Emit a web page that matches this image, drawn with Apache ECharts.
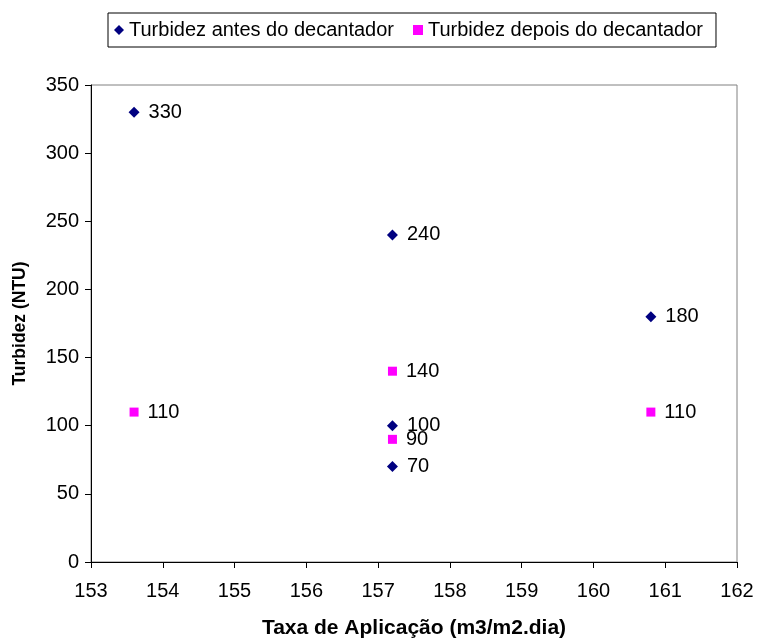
<!DOCTYPE html>
<html>
<head>
<meta charset="utf-8">
<script src="https://cdn.jsdelivr.net/npm/echarts@6/dist/echarts.min.js"></script>
<style>
  html, body { margin: 0; padding: 0; background: #fff; }
  #chart { width: 758px; height: 641px; }
</style>
</head>
<body>
<div id="chart"></div>
<script>
// Application rate (m3/m2.dia) and turbidity (NTU) readings
const antesX = [153.6, 157.2, 157.2, 157.2, 160.8];
const antesY = [330, 240, 100, 70, 180];
const depoisX = [153.6, 157.2, 157.2, 160.8];
const depoisY = [110, 140, 90, 110];

const seriesNames = ['Turbidez antes do decantador', 'Turbidez depois do decantador'];
const xTitle = 'Taxa de Aplicação (m3/m2.dia)';
const yTitle = 'Turbidez (NTU)';

const pairs = (xs, ys) => xs.map((x, i) => [x, ys[i]]);
const font = 'Arial, "Liberation Sans", sans-serif';

const chart = echarts.init(document.getElementById('chart'), null, { renderer: 'canvas' });

const labelStyle = {
  show: true,
  position: 'right',
  distance: 9,
  color: '#000',
  fontFamily: font,
  fontSize: 20,
  formatter: p => p.value[1]
};

chart.setOption({
  animation: false,
  backgroundColor: '#fff',
  legend: {
    top: 13,
    left: 108,
    itemGap: 19,
    itemWidth: 10,
    itemHeight: 10,
    borderColor: '#000',
    borderWidth: 1,
    borderRadius: 0,
    padding: [7, 13, 7, 6],
    textStyle: { fontFamily: font, fontSize: 20, color: '#000' },
    data: [
      { name: seriesNames[0], icon: 'diamond' },
      { name: seriesNames[1], icon: 'rect' }
    ]
  },
  grid: {
    left: 91,
    right: 21,
    top: 85,
    bottom: 79,
    outerBoundsMode: 'none',
    containLabel: false,
    show: true,
    borderColor: '#808080',
    borderWidth: 1
  },
  xAxis: {
    type: 'value',
    min: 153,
    max: 162,
    interval: 1,
    name: xTitle,
    nameLocation: 'middle',
    nameGap: 56,
    nameTextStyle: { fontFamily: font, fontSize: 21, fontWeight: 'bold', color: '#000' },
    axisLine: { show: true, onZero: false, lineStyle: { color: '#000', width: 1 } },
    axisTick: { show: true, length: 6, lineStyle: { color: '#000' } },
    axisLabel: { fontFamily: font, fontSize: 20, color: '#000', margin: 19 },
    splitLine: { show: false }
  },
  yAxis: {
    type: 'value',
    min: 0,
    max: 350,
    interval: 50,
    name: yTitle,
    nameLocation: 'middle',
    nameGap: 62,
    nameRotate: 90,
    nameTextStyle: { fontFamily: font, fontSize: 17.5, fontWeight: 'bold', color: '#000' },
    axisLine: { show: true, lineStyle: { color: '#000', width: 1 } },
    axisTick: { show: true, length: 6, lineStyle: { color: '#000' } },
    axisLabel: { fontFamily: font, fontSize: 20, color: '#000', margin: 12 },
    splitLine: { show: false }
  },
  series: [
    {
      name: seriesNames[0],
      type: 'scatter',
      symbol: 'diamond',
      symbolSize: 11,
      itemStyle: { color: '#000080', opacity: 1 },
      label: labelStyle,
      data: pairs(antesX, antesY)
    },
    {
      name: seriesNames[1],
      type: 'scatter',
      symbol: 'rect',
      symbolSize: 9,
      itemStyle: { color: '#FF00FF', opacity: 1 },
      label: labelStyle,
      data: pairs(depoisX, depoisY)
    }
  ]
});
</script>
</body>
</html>
